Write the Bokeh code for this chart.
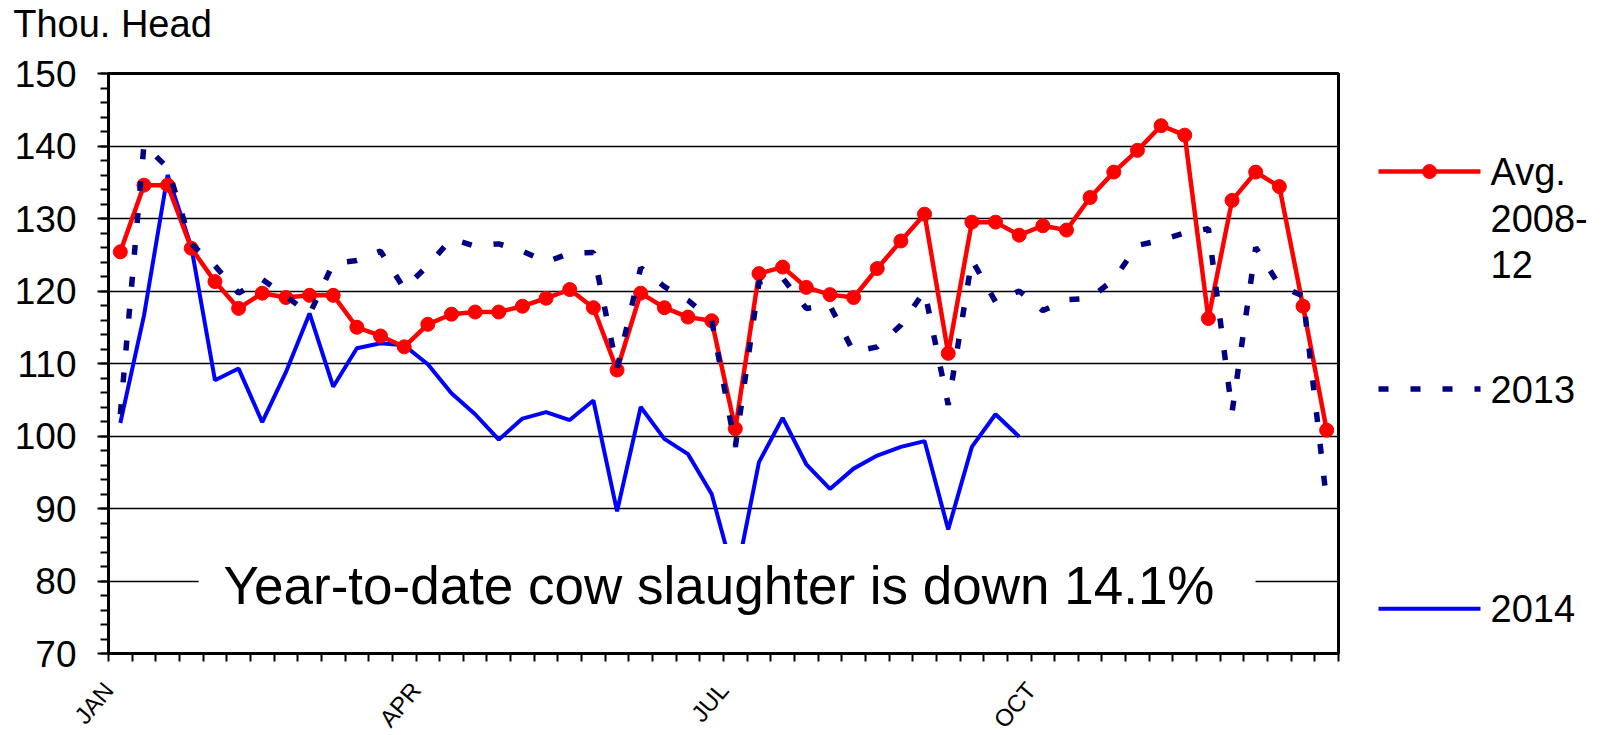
import math
from bokeh.plotting import figure
from bokeh.models import Range1d, FixedTicker, Label
from bokeh.layouts import row, column
from bokeh.embed import file_html
from bokeh.resources import INLINE
from bokeh.core.properties import value

# ---------------- data ----------------
weeks = list(range(1, 53))

avg_2008_12 = [125.4, 134.6, 134.6, 125.9, 121.3, 117.6, 119.7, 119.1, 119.4, 119.4,
               115.0, 113.8, 112.3, 115.4, 116.8, 117.1, 117.1, 117.9, 119.0, 120.2,
               117.7, 109.1, 119.7, 117.7, 116.4, 115.9, 101.0, 122.4, 123.3, 120.5,
               119.5, 119.1, 123.1, 126.9, 130.6, 111.4, 129.5, 129.5, 127.7, 129.0,
               128.4, 132.9, 136.4, 139.4, 142.8, 141.5, 116.2, 132.5, 136.4, 134.4,
               117.9, 100.8]

y2013 = [103.0, 140.2, 137.0, 126.5, 123.5, 119.7, 121.6, 119.3, 116.8, 123.8,
         124.2, 125.5, 120.3, 123.5, 127.2, 126.2, 126.5, 125.5, 124.0, 125.2,
         125.3, 109.3, 123.2, 120.6, 118.7, 116.0, 98.5, 121.2, 121.8, 117.6,
         118.0, 111.6, 112.3, 115.3, 120.0, 104.3, 124.3, 118.5, 120.0, 117.3,
         118.8, 119.0, 121.6, 126.3, 127.0, 128.0, 128.6, 103.3, 126.0, 120.8,
         119.3, 91.0]

y2014 = [101.8, 116.6, 136.0, 126.1, 107.7, 109.3, 101.9, 108.8, 116.9, 106.8,
         112.1, 112.8, 112.5, 109.9, 105.9, 103.0, 99.5, 102.4, 103.3, 102.2,
         104.9, 89.6, 104.0, 99.6, 97.5, 92.0, 80.0, 96.4, 102.5, 96.1,
         92.7, 95.5, 97.3, 98.5, 99.3, 87.1, 98.5, 103.0, 99.9]

month_ticks = [1, 14, 27, 40]
month_labels = ["JAN", "APR", "JUL", "OCT"]
y_ticks = list(range(70, 151, 10))

series_names = ["Avg.\n2008-\n12", "2013", "2014"]
annotation_text = "Year-to-date cow slaughter is down 14.1%"
units_text = "Thou. Head"

# ---------------- layout constants (pixels) ----------------
FONT = "Liberation Sans"
RED = "#FF0000"
NAVY = "#000080"
BLUE = "#0000FF"

TOTAL_W = 1596
LEFT, FRAME_W, RIGHT = 108, 1230, 2
MAIN_W = LEFT + FRAME_W + RIGHT
LEG_W = TOTAL_W - MAIN_W
TOP_STRIP_H = 50
P_TOP, FRAME_H, P_BOTTOM = 23, 580, 24
P_H = P_TOP + FRAME_H + P_BOTTOM
BOT_STRIP_H = 58

X0, X1 = 0.5, 52.5
Y0, Y1 = 70, 150


def strip(width, height, x_range, y_range):
    f = figure(width=width, height=height, x_range=x_range, y_range=y_range,
               title=None, output_backend="svg", toolbar_location=None,
               x_axis_location=None, y_axis_location=None,
               min_border_left=0, min_border_right=0,
               min_border_top=0, min_border_bottom=0)
    f.grid.visible = False
    f.outline_line_color = None
    f.background_fill_color = "white"
    f.border_fill_color = "white"
    return f


# ---------------- units text strip ----------------
top = strip(TOTAL_W, TOP_STRIP_H, Range1d(0, TOTAL_W), Range1d(0, TOP_STRIP_H))
top.text(x=[12.7], y=[TOP_STRIP_H - 23.7], text=[units_text],
         text_font=value(FONT), text_font_size="38px", text_color="black",
         text_align="left", text_baseline="middle")

# ---------------- main chart ----------------
p = figure(width=MAIN_W, height=P_H,
           x_range=Range1d(X0, X1), y_range=Range1d(Y0, Y1),
           output_backend="svg", toolbar_location=None,
           min_border_left=LEFT, min_border_right=RIGHT,
           min_border_top=P_TOP, min_border_bottom=P_BOTTOM)
p.background_fill_color = "white"
p.border_fill_color = "white"
p.outline_line_color = "black"
p.outline_line_width = 3

p.yaxis.ticker = FixedTicker(ticks=y_ticks, minor_ticks=list(range(70, 151, 2)))
p.yaxis.axis_line_width = 3
p.yaxis.major_tick_in = 0
p.yaxis.major_tick_out = 11
p.yaxis.minor_tick_in = 0
p.yaxis.minor_tick_out = 8
p.yaxis.major_tick_line_width = 2
p.yaxis.minor_tick_line_width = 2
p.yaxis.major_label_text_font = FONT
p.yaxis.major_label_text_font_size = "37px"
p.yaxis.major_label_text_color = "black"
p.yaxis.major_label_standoff = 21

boundaries = [w - 0.5 for w in weeks] + [weeks[-1] + 0.5]
p.xaxis.ticker = FixedTicker(ticks=[], minor_ticks=boundaries)
p.xaxis.axis_line_width = 3
p.xaxis.major_tick_in = 0
p.xaxis.major_tick_out = 0
p.xaxis.minor_tick_in = 0
p.xaxis.minor_tick_out = 8
p.xaxis.minor_tick_line_width = 2
p.xaxis.major_label_standoff = 0

p.xgrid.visible = False
p.ygrid.ticker = FixedTicker(ticks=y_ticks)
p.ygrid.grid_line_color = "black"
p.ygrid.grid_line_width = 1.5

p.line(weeks[:len(y2014)], y2014, line_color=BLUE, line_width=4)
p.line(weeks, avg_2008_12, line_color=RED, line_width=4.5)
p.scatter(weeks, avg_2008_12, size=14, fill_color=RED, line_color=RED)
p.line(weeks, y2013, line_color=NAVY, line_width=5.5, line_dash="10 22")

# padding is (left, right, top, bottom); the padded box is centred on (x, y)
p.add_layout(Label(x=26.65, y=79.38, text=annotation_text,
                   text_font=FONT, text_font_size="53px", text_color="black",
                   text_align="center", text_baseline="middle",
                   background_fill_color="white", padding=(25, 41, 12, 12)))

# ---------------- legend panel ----------------
lg = strip(LEG_W, P_H, Range1d(0, LEG_W), Range1d(Y0, Y1))
lg.min_border_top = P_TOP
lg.min_border_bottom = P_BOTTOM

row_y = [136.48, 106.48, 76.17]
gx0, gx1, tx = 38, 140, 150
lg.line([gx0, gx1], [row_y[0]] * 2, line_color=RED, line_width=4.5)
lg.scatter([(gx0 + gx1) / 2], [row_y[0]], size=14, fill_color=RED, line_color=RED)
lg.line([gx0, gx1], [row_y[1]] * 2, line_color=NAVY, line_width=5.5, line_dash="10 22")
lg.line([gx0, gx1], [row_y[2]] * 2, line_color=BLUE, line_width=4)

avg_lines = series_names[0].split("\n")
line_step = 46.7 * (Y1 - Y0) / FRAME_H
text_y = [row_y[0] - i * line_step for i in range(len(avg_lines))] + [row_y[1], row_y[2]]
text_t = avg_lines + [series_names[1], series_names[2]]
lg.text(x=[tx] * len(text_t), y=text_y, text=text_t, text_font=value(FONT),
        text_font_size="38px", text_color="black",
        text_align="left", text_baseline="middle")

# ---------------- month label strip (shares the week scale) ----------------
upp = (X1 - X0) / FRAME_W
bx0 = X0 - LEFT * upp
bot = strip(TOTAL_W, BOT_STRIP_H, Range1d(bx0, bx0 + TOTAL_W * upp), Range1d(0, BOT_STRIP_H))
bot.text(x=[t - 0.5 for t in month_ticks], y=[BOT_STRIP_H - 8] * len(month_ticks),
         text=month_labels, angle=math.radians(50),
         text_font=value(FONT), text_font_size="24px", text_color="black",
         text_align="right", text_baseline="middle")

layout = column(top, row(p, lg), bot)
open("out.html", "w").write(file_html(layout, INLINE))
